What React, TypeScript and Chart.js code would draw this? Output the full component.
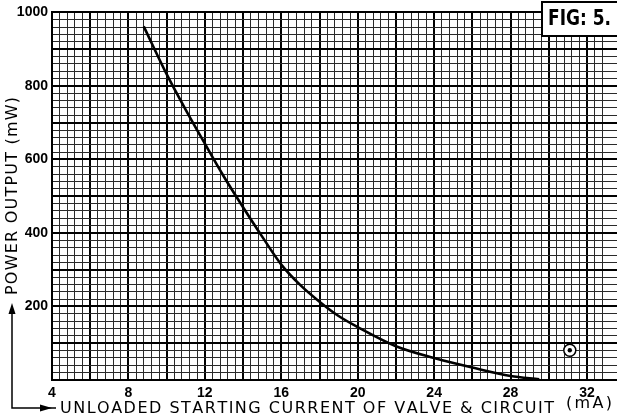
import { useEffect, useRef } from 'react';
import { Chart, registerables } from 'chart.js';

Chart.register(...registerables);

// Curve: unloaded starting current (mA) vs power output (mW)
const currentMA = [8.8, 10, 11, 12, 13, 14, 15, 16, 17, 18, 19, 20, 22, 24, 26, 28, 29.5];
const powerMW = [962, 832, 735, 643, 553, 470, 390, 314, 258, 213, 174, 144, 92, 60, 34, 11, 2];
// Isolated ringed point
const markerX = [31.1];
const markerY = [81];
// Tick labels
const xTickLabels = [4, 8, 12, 16, 20, 24, 28, 32];
const yTickLabels = [200, 400, 600, 800, 1000];
// Texts
const xTitle = 'UNLOADED STARTING CURRENT OF VALVE & CIRCUIT';
const xUnit = '(mA)';
const yTitle = 'POWER OUTPUT (mW)';
const figLabel = 'FIG: 5.';

const near = (v: number, m: number) => Math.abs(v / m - Math.round(v / m)) < 1e-6;

function drawSpaced(ctx: CanvasRenderingContext2D, text: string, x0: number, y: number, width: number) {
  const chars = Array.from(text);
  const widths = chars.map((c) => ctx.measureText(c).width);
  const total = widths.reduce((a, b) => a + b, 0);
  const gap = chars.length > 1 ? (width - total) / (chars.length - 1) : 0;
  let x = x0;
  chars.forEach((c, i) => {
    ctx.fillText(c, x, y);
    x += widths[i] + gap;
  });
}

function drawFitted(ctx: CanvasRenderingContext2D, text: string, x0: number, y: number, width: number) {
  const w = ctx.measureText(text).width;
  const sx = w > width ? width / w : 1;
  ctx.save();
  ctx.translate(x0, y);
  ctx.scale(sx, 1);
  ctx.fillText(text, 0, 0);
  ctx.restore();
}

const decorPlugin = {
  id: 'decor',
  afterDraw(chart: any) {
    const ctx: CanvasRenderingContext2D = chart.ctx;
    ctx.save();
    ctx.fillStyle = '#000';
    ctx.strokeStyle = '#000';
    ctx.textBaseline = 'middle';
    ctx.textAlign = 'left';

    // X title
    ctx.font = '16px "DejaVu Sans"';
    drawSpaced(ctx, xTitle, 60, 409, 494);
    drawSpaced(ctx, xUnit, 566, 404, 46);

    // Y title (rotated)
    ctx.save();
    ctx.translate(13, 295);
    ctx.rotate(-Math.PI / 2);
    ctx.font = '16px "DejaVu Sans"';
    drawSpaced(ctx, yTitle, 0, 0, 198);
    ctx.restore();

    // L-shaped arrow leader
    ctx.lineWidth = 1.5;
    ctx.beginPath();
    ctx.moveTo(12, 312);
    ctx.lineTo(12, 408);
    ctx.lineTo(56, 408);
    ctx.stroke();
    ctx.beginPath();
    ctx.moveTo(12, 303);
    ctx.lineTo(8.5, 314);
    ctx.lineTo(15.5, 314);
    ctx.closePath();
    ctx.fill();
    ctx.beginPath();
    ctx.moveTo(52, 408);
    ctx.lineTo(40, 404.5);
    ctx.lineTo(40, 411.5);
    ctx.closePath();
    ctx.fill();

    // FIG box
    ctx.fillStyle = '#fff';
    ctx.fillRect(542, 2, 76, 34);
    ctx.lineWidth = 2;
    ctx.strokeRect(542, 2, 76, 34);
    ctx.fillStyle = '#000';
    ctx.font = 'bold 21px "DejaVu Sans Condensed", "DejaVu Sans"';
    drawFitted(ctx, figLabel, 548, 20, 63);
    ctx.restore();
  },
};

export default function App() {
  const ref = useRef<HTMLCanvasElement | null>(null);

  useEffect(() => {
    if (!ref.current) return;
    const chart = new Chart(ref.current, {
      type: 'line',
      data: {
        datasets: [
          {
            type: 'line',
            order: 2,
            data: currentMA.map((x, i) => ({ x, y: powerMW[i] })),
            borderColor: '#000',
            borderWidth: 2.6,
            pointRadius: 0,
            cubicInterpolationMode: 'monotone',
            fill: false,
          },
          {
            type: 'scatter',
            order: 1,
            data: markerX.map((x, i) => ({ x, y: markerY[i] })),
            pointRadius: 6,
            pointBackgroundColor: '#fff',
            pointBorderColor: '#000',
            pointBorderWidth: 1.5,
          },
          {
            type: 'scatter',
            order: 0,
            data: markerX.map((x, i) => ({ x, y: markerY[i] })),
            pointRadius: 2.2,
            pointBackgroundColor: '#000',
            pointBorderColor: '#000',
            pointBorderWidth: 0,
          },
        ],
      } as any,
      options: {
        responsive: false,
        animation: false,
        devicePixelRatio: 1,
        layout: { autoPadding: false, padding: { top: 12, left: 0, right: 0, bottom: 0 } },
        plugins: { legend: { display: false }, tooltip: { enabled: false } },
        scales: {
          x: {
            type: 'linear',
            min: 4,
            max: 33.57,
            afterFit: (s: any) => {
              s.height = 39;
              s.paddingRight = 0;
              s.paddingLeft = 0;
            },
            border: { color: '#000', width: 2 },
            grid: {
              drawTicks: false,
              color: (c: any) => (near(c.tick.value, 2) ? '#000' : '#2a2a2a'),
              lineWidth: (c: any) => (near(c.tick.value, 2) ? 2 : 1),
            },
            ticks: {
              stepSize: 0.4,
              autoSkip: false,
              maxRotation: 0,
              minRotation: 0,
              padding: 5,
              color: '#000',
              font: { family: 'Liberation Sans', size: 14, weight: 'bold' },
              callback: (v: any) => {
                const n = Number(v);
                const hit = xTickLabels.find((t) => Math.abs(t - n) < 1e-6);
                return hit !== undefined ? String(hit) : '';
              },
            },
          },
          y: {
            type: 'linear',
            min: 0,
            max: 1000,
            afterFit: (s: any) => {
              s.width = 52;
            },
            border: { color: '#000', width: 2 },
            grid: {
              drawTicks: false,
              color: (c: any) => (near(c.tick.value, 100) ? '#000' : '#2a2a2a'),
              lineWidth: (c: any) => (near(c.tick.value, 100) ? 2 : 1),
            },
            ticks: {
              stepSize: 20,
              autoSkip: false,
              padding: 4,
              color: '#000',
              font: { family: 'Liberation Sans', size: 14, weight: 'bold' },
              callback: (v: any) => {
                const n = Number(v);
                const hit = yTickLabels.find((t) => Math.abs(t - n) < 1e-6);
                return hit !== undefined ? String(hit) : '';
              },
            },
          },
        },
      } as any,
      plugins: [decorPlugin],
    });
    return () => chart.destroy();
  }, []);

  return (
    <div style={{ position: 'fixed', left: 0, top: 0, width: 617, height: 419, background: '#fff' }}>
      <canvas ref={ref} width={617} height={419} style={{ display: 'block' }} />
    </div>
  );
}
